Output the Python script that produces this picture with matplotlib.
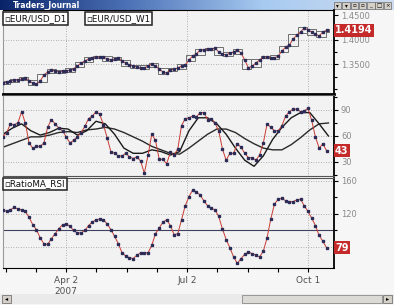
import matplotlib
matplotlib.use('Agg')
import matplotlib.pyplot as plt
from matplotlib.patches import Rectangle
from matplotlib.colors import LinearSegmentedColormap
import numpy as np
import pandas as pd

W, H = 394, 305

# trading days shown on the chart
dates = pd.bdate_range('2007-02-13', '2007-10-16')
day2 = np.arange(0, 176, 2)          # every second trading day
dayw = np.linspace(0, 175, 36)       # roughly weekly

eurusd_d1 = [1.3122, 1.3143, 1.3163, 1.3184, 1.3184, 1.3204, 1.3224, 1.3163, 1.3122, 1.3102,
             1.3163, 1.3286, 1.3347, 1.3388, 1.3367, 1.3347, 1.3367, 1.3367, 1.3388, 1.3408,
             1.3469, 1.3531, 1.3571, 1.3612, 1.3633, 1.3653, 1.3653, 1.3653, 1.3612, 1.3592,
             1.3612, 1.3633, 1.3571, 1.3531, 1.3490, 1.3469, 1.3449, 1.3429, 1.3429, 1.3469,
             1.3510, 1.3469, 1.3408, 1.3347, 1.3327, 1.3388, 1.3408, 1.3429, 1.3469, 1.3490,
             1.3592, 1.3673, 1.3714, 1.3796, 1.3796, 1.3816, 1.3816, 1.3837, 1.3755, 1.3714,
             1.3694, 1.3735, 1.3755, 1.3796, 1.3735, 1.3592, 1.3429, 1.3469, 1.3531, 1.3592,
             1.3653, 1.3653, 1.3633, 1.3633, 1.3673, 1.3776, 1.3857, 1.3898, 1.4020, 1.4102,
             1.4163, 1.4245, 1.4204, 1.4163, 1.4122, 1.4082, 1.4163, 1.4194]

rsi = [59, 64, 74, 73, 75, 88, 75, 52, 46, 48,
       48, 52, 70, 79, 74, 69, 66, 59, 52, 55,
       59, 64, 71, 80, 83, 88, 85, 73, 58, 42,
       40, 37, 37, 40, 36, 34, 36, 31, 17, 38,
       62, 55, 33, 33, 28, 41, 38, 45, 72, 80,
       81, 83, 82, 87, 87, 79, 80, 75, 66, 45,
       32, 40, 40, 51, 47, 40, 35, 35, 32, 38,
       52, 74, 70, 66, 66, 72, 83, 88, 91, 91,
       88, 89, 92, 78, 59, 46, 51, 43]

rsi_ma_fast = [62, 69, 74, 66, 61, 64, 69, 68, 61, 66, 77, 74, 62, 46, 40, 40, 44, 42,
               38, 42, 66, 81, 81, 74, 62, 46, 32, 25, 37, 56, 70, 81, 87, 87, 74, 60]
rsi_ma_slow = [47, 51, 55, 59, 59, 61, 64, 65, 64, 67, 68, 70, 68, 64, 59, 54, 48, 44,
               40, 39, 46, 54, 62, 68, 68, 64, 57, 51, 46, 44, 44, 50, 58, 67, 74, 75]

ratio_ma_rsi = [125, 123, 125, 128, 126, 125, 123, 116, 107, 101,
                91, 84, 83, 90, 96, 102, 107, 108, 105, 100,
                97, 97, 100, 106, 110, 113, 114, 113, 108, 101,
                93, 84, 73, 69, 67, 66, 70, 73, 73, 73,
                82, 96, 103, 110, 113, 106, 95, 96, 113, 130,
                141, 149, 147, 143, 136, 130, 127, 125, 117, 102,
                89, 79, 68, 60, 66, 71, 74, 72, 70, 68,
                75, 91, 114, 132, 138, 139, 136, 135, 135, 137,
                138, 130, 123, 115, 106, 94, 87, 79]

price_ticks = [1.35, 1.40, 1.45]
rsi_ticks = [30, 60, 90]
ratio_ticks = [80, 120, 160]
date_ticks = ['2007-04-02', '2007-07-02', '2007-10-01']
date_labels = ['Apr 2\n2007', 'Jul 2', 'Oct 1']


def box(l, t, r, b):
    return [l / W, 1 - b / H, (r - l) / W, (b - t) / H]


fig = plt.figure(figsize=(W / 100, H / 100), dpi=100, facecolor='#f6f6f6')

# window title bar
tb = fig.add_axes(box(0, 0, W, 10))
grad = np.linspace(0, 1, 256).reshape(1, -1)
cmap = LinearSegmentedColormap.from_list('tb', ['#0a246a', '#4f74b8', '#a6caf0', '#d0dcf0'])
tb.imshow(grad, aspect='auto', cmap=cmap, extent=[0, W, 10, 0])
tb.set_xlim(0, W)
tb.set_ylim(10, 0)
tb.axis('off')
tb.text(13, 5.2, 'Traders_Journal', color='white', fontsize=5.5, fontweight='bold', va='center')
for i, g in enumerate(['▾', '▾', '▫', '▫', '_', '□', '×']):
    bx = 334 + i * 8.3
    tb.add_patch(Rectangle((bx, 1.5), 7.5, 7.5, fc='#d4d0c8', ec='#505050', lw=0.4))
    tb.text(bx + 3.7, 5.3, g, fontsize=4, ha='center', va='center', color='black')

xmax = 178
xt = [dates.get_loc(pd.Timestamp(d)) for d in date_ticks]
q = (xt[1] - xt[0]) / 4
minor_x = np.arange(xt[0] - 2 * q, xmax, q)

ax1 = fig.add_axes(box(3, 10, 334, 94))
ax2 = fig.add_axes(box(3, 95, 334, 176))
ax3 = fig.add_axes(box(3, 178, 334, 268))

grid_kw = dict(color='#9a9a9a', lw=0.6, ls=(0, (1, 2)), zorder=0)

for ax in (ax1, ax2, ax3):
    ax.set_facecolor('#f2f2f2')
    ax.set_xlim(0, xmax)
    ax.yaxis.tick_right()
    ax.tick_params(axis='y', which='both', direction='out', color='black', labelcolor='#8a8a8a',
                   labelsize=6, pad=2, width=0.8)
    ax.tick_params(axis='y', which='major', length=3)
    ax.tick_params(axis='y', which='minor', length=2)
    ax.spines['left'].set_color('#9a9a9a')
    ax.spines['left'].set_linewidth(0.8)
    ax.spines['right'].set_color('black')
    ax.spines['right'].set_linewidth(1.3)
    ax.spines['top'].set_color('#555555')
    ax.spines['bottom'].set_color('#555555')
    for x in xt:
        ax.axvline(x, **grid_kw)
    ax.set_xticks(xt)
    ax.set_xticks(minor_x, minor=True)

for ax in (ax1, ax2):
    ax.tick_params(axis='x', which='both', bottom=False, labelbottom=False)
ax1.spines['bottom'].set_color('black')
ax1.spines['bottom'].set_linewidth(2)
ax1.spines['top'].set_color('black')

line_kw = dict(color='#c83a32', lw=0.7, marker='s', ms=1.6, mfc='#2c2c58', mec='#2c2c58', zorder=3)
label_kw = dict(color='white', fontsize=7, va='center', ha='left', fontweight='bold',
                bbox=dict(boxstyle='square,pad=0.15', fc='#c42a2a', ec='none'))
legend_kw = dict(fontsize=6.3, va='top', ha='left', color='#111111',
                 bbox=dict(boxstyle='square,pad=0.2', fc='white', ec='#222222', lw=1.1))

# price panel
price = np.array(eurusd_d1)
ax1.set_ylim(1.2898, 1.4612)
ax1.set_yticks(price_ticks)
ax1.set_yticks(np.arange(1.30, 1.46, 0.025), minor=True)
ax1.set_yticklabels([f'{v:.4f}' for v in price_ticks])
for v in price_ticks[:2]:
    ax1.axhline(v, **grid_kw)
weeks = dates.to_period('W-FRI')
for wk in weeks.unique():
    days = np.flatnonzero(weeks == wk)
    sel = (day2 >= days[0]) & (day2 <= days[-1])
    if not sel.any():
        continue
    lo, hi = price[sel].min(), price[sel].max()
    ax1.add_patch(Rectangle((days[0] - 0.5, lo - 0.003), days[-1] - days[0] + 1,
                            hi - lo + 0.006, fill=False, ec='#6e6e6e', lw=0.7, zorder=2))
ax1.plot(day2, price, **line_kw)
ax1.text(1.003, price[-1], f'{price[-1]:.4f}', transform=ax1.get_yaxis_transform(), **label_kw)
ax1.text(0.004, 0.95, '▫EUR/USD_D1', transform=ax1.transAxes, **legend_kw)
ax1.text(0.252, 0.95, '▫EUR/USD_W1', transform=ax1.transAxes, **legend_kw)

# RSI panel
ax2.set_ylim(13.8, 107.3)
ax2.set_yticks(rsi_ticks)
ax2.set_yticks(np.arange(15, 106, 15), minor=True)
for v in rsi_ticks:
    ax2.axhline(v, **grid_kw)
ax2.plot(dayw, rsi_ma_slow, color='#2a2a2a', lw=1.0, zorder=2)
ax2.plot(dayw, rsi_ma_fast, color='#1a1a1a', lw=1.0, zorder=2)
ax2.plot(day2, rsi, **line_kw)
ax2.text(1.003, rsi[-1], f'{rsi[-1]}', transform=ax2.get_yaxis_transform(), **label_kw)

# RatioMA_RSI panel
ax3.set_ylim(54.5, 163.6)
ax3.set_yticks(ratio_ticks)
ax3.set_yticks([100, 140], minor=True)
ax3.set_yticklabels(['', '120', '160'])   # the value box sits over the 80 label
for v in ratio_ticks:
    ax3.axhline(v, **grid_kw)
ax3.axhline(100, color='#404060', lw=0.8, zorder=1)
ax3.plot(day2, ratio_ma_rsi, **line_kw)
ax3.text(1.003, ratio_ma_rsi[-1], f'{ratio_ma_rsi[-1]}', transform=ax3.get_yaxis_transform(), **label_kw)
ax3.text(0.004, 0.985, '▫RatioMA_RSI', transform=ax3.transAxes, **legend_kw)
ax3.spines['bottom'].set_color('black')
ax3.set_xticklabels(date_labels)
ax3.tick_params(axis='x', which='both', direction='out', color='black', labelcolor='#505050',
                labelsize=6.5, pad=3, width=0.8)
ax3.tick_params(axis='x', which='major', length=3)
ax3.tick_params(axis='x', which='minor', length=3)

# bottom scrollbar
sb = fig.add_axes(box(0, 294, W, 304))
sb.set_xlim(0, W)
sb.set_ylim(10, 0)
sb.axis('off')
sb.add_patch(Rectangle((0, 0), W, 10, fc='#eaeaea', ec='none'))
sb.add_patch(Rectangle((242, 1), 140, 8, fc='#dcdad4', ec='#8a8a8a', lw=0.6))
sb.add_patch(Rectangle((2, 1), 9, 8, fc='#d4d0c8', ec='#606060', lw=0.5))
sb.add_patch(Rectangle((383, 1), 9, 8, fc='#d4d0c8', ec='#606060', lw=0.5))
sb.text(6.5, 5, '◂', fontsize=4.5, ha='center', va='center')
sb.text(387.5, 5, '▸', fontsize=4.5, ha='center', va='center')

fig.savefig('out.png', dpi=100, facecolor=fig.get_facecolor())
